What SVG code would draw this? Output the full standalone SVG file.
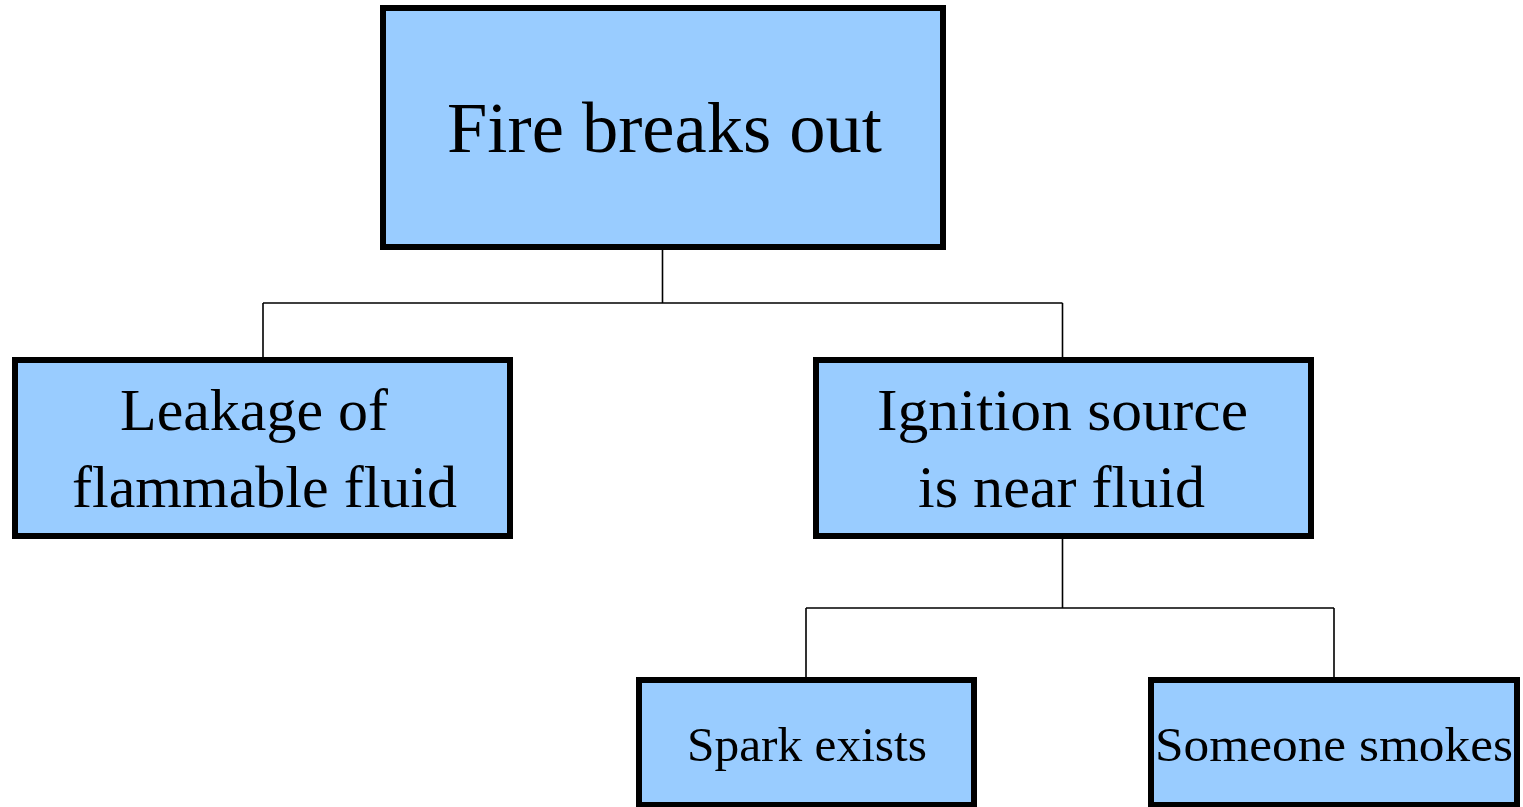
<svg xmlns="http://www.w3.org/2000/svg" width="1523" height="807" viewBox="0 0 1523 807">
  <style>
    .box { fill: #99CCFF; stroke: #000000; stroke-width: 6; }
    .wire { fill: none; stroke: #000000; stroke-width: 1.6; }
    .label { font-family: "Liberation Serif", "DejaVu Serif", serif; fill: #000000; }
    .big { font-size: 72px; }
    .mid { font-size: 60px; }
    .small { font-size: 49px; }
  </style>
  <rect width="1523" height="807" fill="#FFFFFF"/>

  <!-- tree connectors -->
  <g id="connectors">
    <path class="wire" d="M662.5 250 V303 M263 303 H1062.5 M263 303 V357 M1062.5 303 V357"/>
    <path class="wire" d="M1062.5 539 V608 M806 608 H1334 M806 608 V677 M1334 608 V677"/>
  </g>

  <g id="fire-breaks-out">
    <rect class="box" x="383" y="8" width="560" height="239"/>
    <text class="label big" x="447" y="152" textLength="435" lengthAdjust="spacingAndGlyphs">Fire breaks out</text>
  </g>

  <g id="leakage">
    <rect class="box" x="15" y="360" width="495" height="176"/>
    <text class="label mid" x="120" y="430" textLength="268" lengthAdjust="spacingAndGlyphs">Leakage of</text>
    <text class="label mid" x="72" y="507" textLength="385" lengthAdjust="spacingAndGlyphs">flammable fluid</text>
  </g>

  <g id="ignition-source">
    <rect class="box" x="816" y="360" width="495" height="176"/>
    <text class="label mid" x="877" y="430" textLength="371" lengthAdjust="spacingAndGlyphs">Ignition source</text>
    <text class="label mid" x="918" y="507" textLength="287" lengthAdjust="spacingAndGlyphs">is near fluid</text>
  </g>

  <g id="spark-exists">
    <rect class="box" x="639" y="680" width="335" height="125"/>
    <text class="label small" x="687" y="761" textLength="240" lengthAdjust="spacingAndGlyphs">Spark exists</text>
  </g>

  <g id="someone-smokes">
    <rect class="box" x="1151" y="680" width="366" height="125"/>
    <text class="label small" x="1155" y="761" textLength="358" lengthAdjust="spacingAndGlyphs">Someone smokes</text>
  </g>
</svg>
